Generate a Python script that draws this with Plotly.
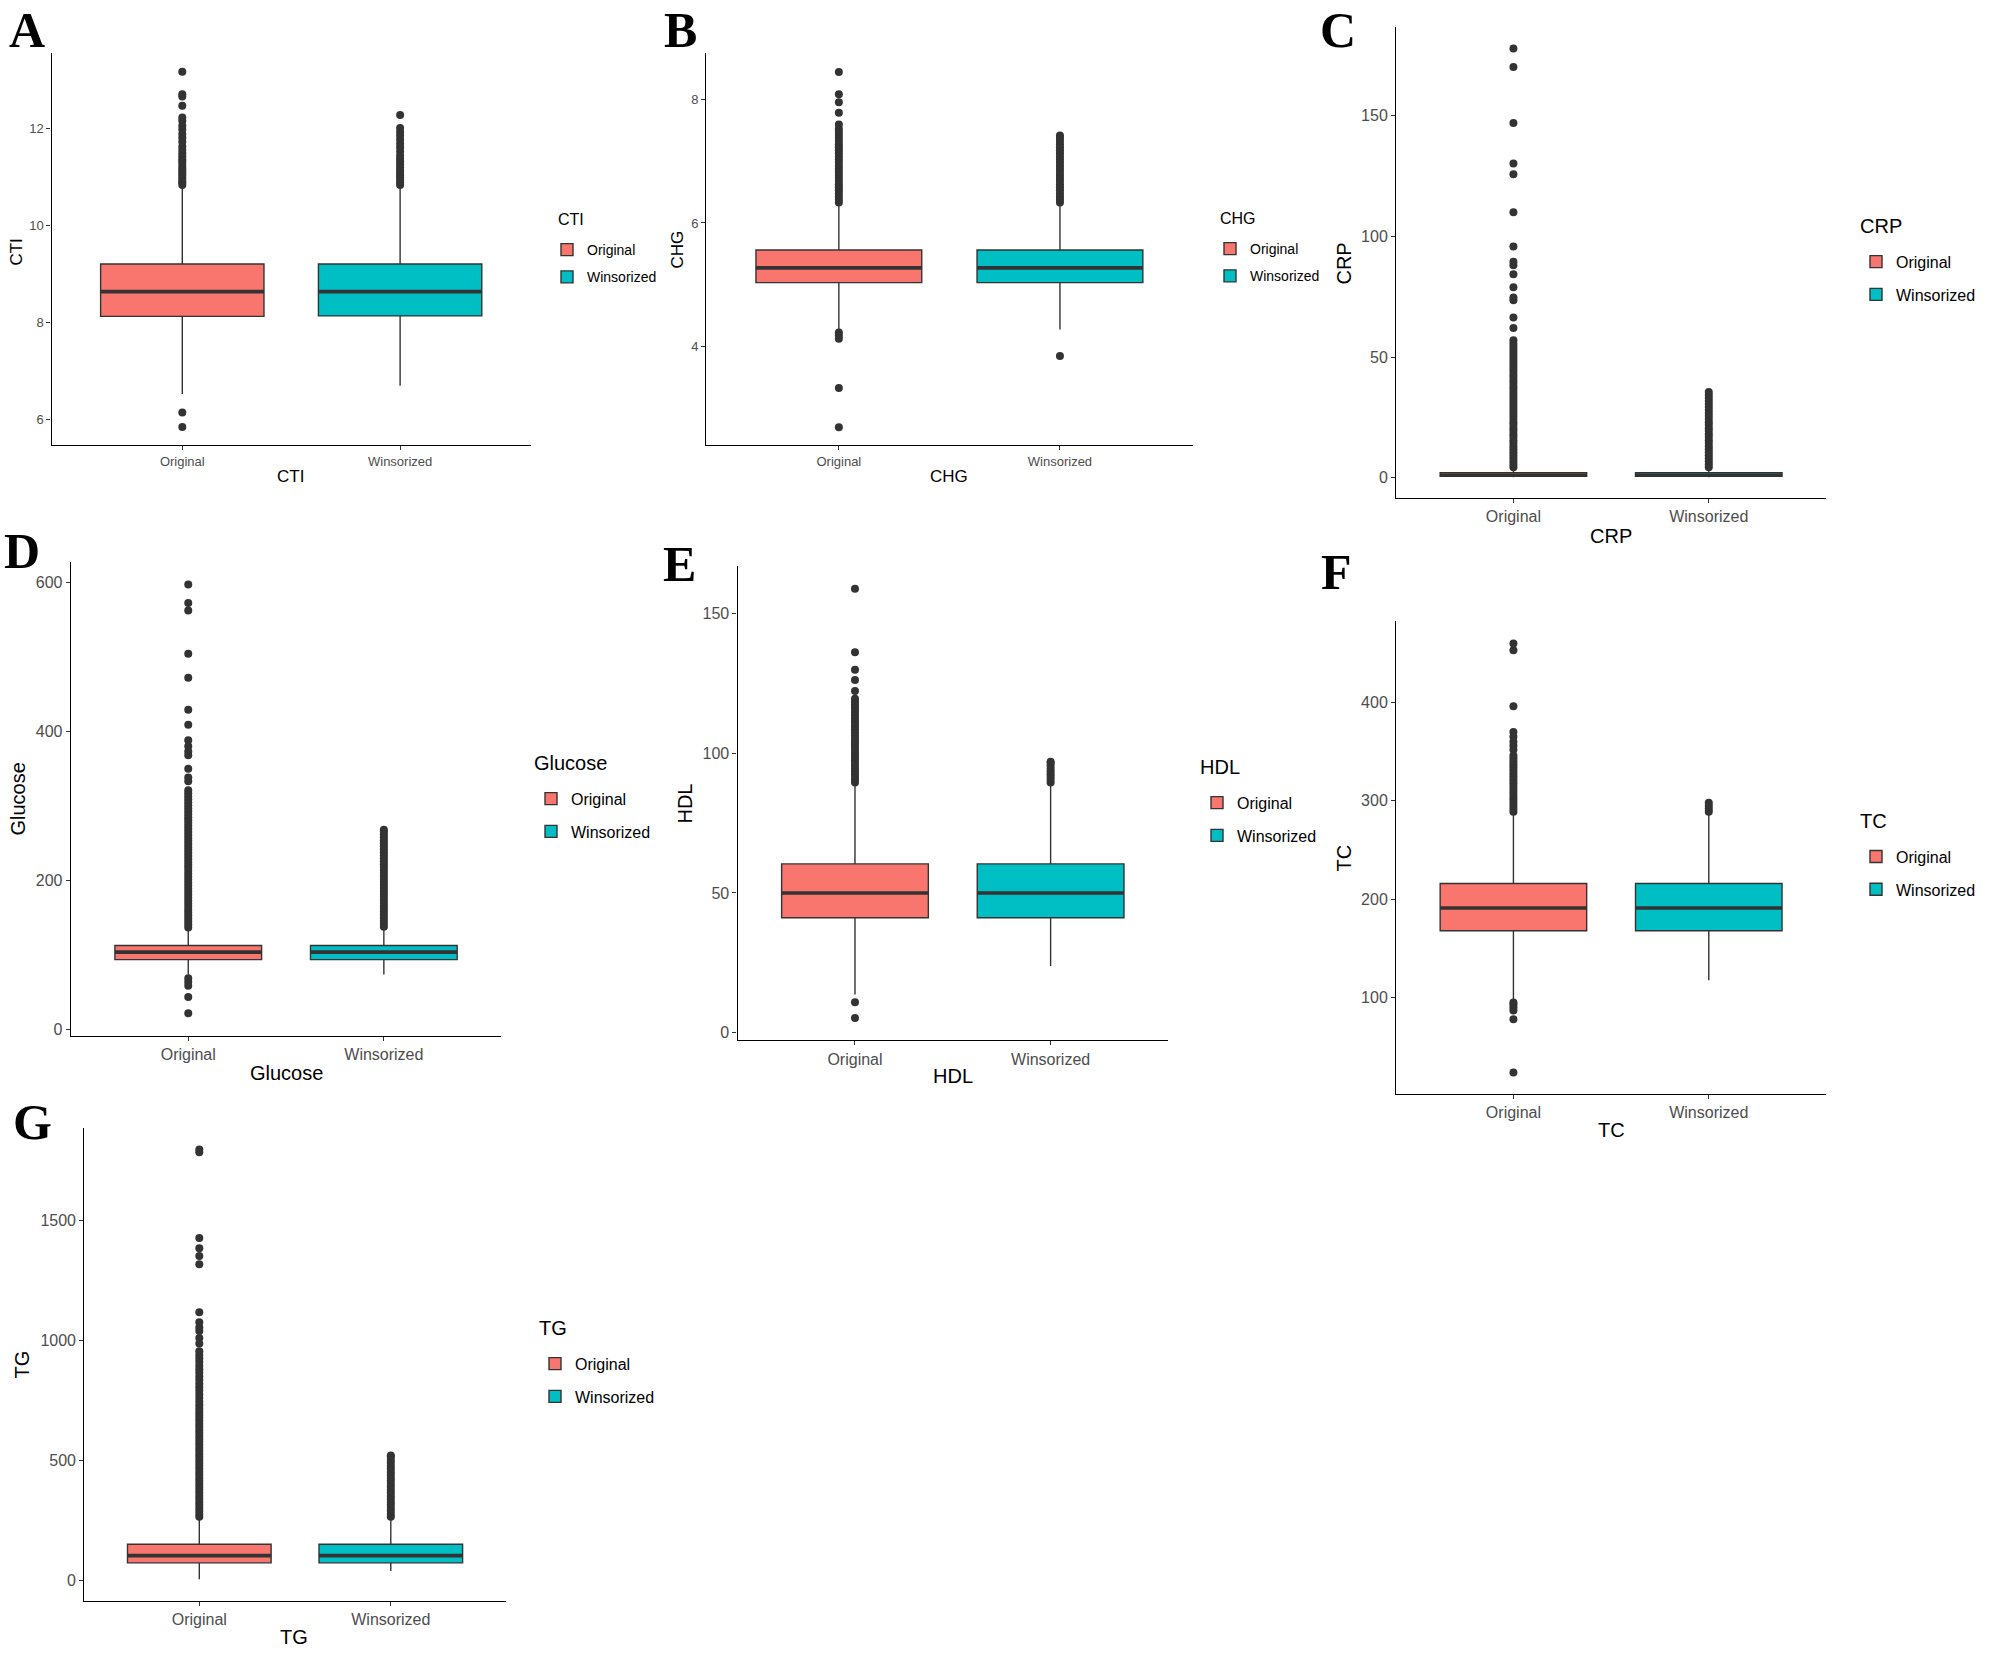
import plotly.graph_objects as go

W, H = 1999, 1660          # page size in the browser
FW, FH = W - 1, H - 1      # figure size (page body margin is removed below)

groups = ["Original", "Winsorized"]
fills = ["#F8766D", "#00BFC4"]

# ---------------- data ----------------
# A: CTI
cti_q1 = [8.12, 8.13]
cti_median = [8.63, 8.63]
cti_q3 = [9.20, 9.20]
cti_lowerfence = [6.52, 6.69]
cti_upperfence = [10.80, 10.80]
cti_out_original = [5.84, 6.14, 10.83, 10.87, 10.90, 10.95, 11.00, 11.05, 11.10, 11.15,
                    11.20, 11.26, 11.31, 11.36, 11.42, 11.48, 11.55, 11.62, 11.72, 11.80,
                    11.88, 11.97, 12.05, 12.15, 12.22, 12.46, 12.65, 12.70, 13.16]
cti_out_winsorized = [10.83, 10.88, 10.93, 10.98, 11.03, 11.08, 11.13, 11.19, 11.25, 11.31,
                      11.37, 11.43, 11.52, 11.60, 11.68, 11.76, 11.84, 11.92, 12.00, 12.27]
cti_ticks = [6, 8, 10, 12]

# B: CHG
chg_q1 = [5.03, 5.03]
chg_median = [5.27, 5.27]
chg_q3 = [5.56, 5.56]
chg_lowerfence = [4.27, 4.27]
chg_upperfence = [6.31, 6.31]
chg_out_original = [2.68, 3.32, 4.12, 4.17, 4.22, 6.33, 6.38, 6.43, 6.48, 6.53, 6.58, 6.63,
                    6.68, 6.73, 6.78, 6.83, 6.88, 6.93, 6.98, 7.03, 7.08, 7.13, 7.18, 7.23,
                    7.28, 7.33, 7.38, 7.43, 7.48, 7.53, 7.60, 7.79, 7.96, 8.09, 8.45]
chg_out_winsorized = [3.84, 6.33, 6.38, 6.43, 6.48, 6.53, 6.58, 6.63, 6.68, 6.73, 6.78, 6.83,
                      6.88, 6.93, 6.98, 7.03, 7.08, 7.13, 7.18, 7.23, 7.28, 7.33, 7.38, 7.42]
chg_ticks = [4, 6, 8]

# C: CRP
crp_q1 = [0.5, 0.5]
crp_median = [1.0, 1.0]
crp_q3 = [2.0, 2.0]
crp_lowerfence = [0.1, 0.1]
crp_upperfence = [4.1, 4.1]
crp_out_original = [4.3, 5.5, 6.8, 8.0, 9.3, 10.5, 11.8, 13.0, 14.3, 15.5, 16.8, 18.0, 19.3,
                    20.5, 21.8, 23.0, 24.3, 25.5, 26.8, 28.0, 29.3, 30.5, 31.8, 33.0, 34.3,
                    35.5, 36.8, 38.0, 39.3, 40.5, 41.8, 43.0, 44.3, 45.5, 46.8, 48.0, 49.3,
                    50.5, 51.8, 53.0, 54.3, 55.5, 56.9, 62.0, 66.4, 73.5, 74.7, 78.9, 84.3,
                    88.0, 89.5, 95.8, 110.0, 125.8, 130.2, 147.0, 170.3, 177.9]
crp_out_winsorized = [4.3, 5.5, 6.8, 8.0, 9.3, 10.5, 11.8, 13.0, 14.3, 15.5, 16.8, 18.0, 19.3,
                      20.5, 21.8, 23.0, 24.3, 25.5, 26.8, 28.0, 29.3, 30.5, 31.8, 33.0, 34.3,
                      35.5]
crp_ticks = [0, 50, 100, 150]

# D: Glucose
glu_q1 = [94, 94]
glu_median = [104, 104]
glu_q3 = [113, 113]
glu_lowerfence = [74, 74]
glu_upperfence = [136, 136]
glu_out_original = [22, 44, 59, 64, 69, 137, 141, 145, 149, 153, 157, 161, 165, 169, 173, 177,
                    181, 185, 189, 193, 197, 201, 205, 209, 213, 217, 221, 225, 229, 233, 237,
                    241, 245, 249, 253, 257, 261, 265, 269, 273, 277, 281, 285, 289, 293, 297,
                    301, 305, 309, 313, 317, 321, 333, 338, 350, 368, 373, 380, 388, 409, 429,
                    472, 504, 562, 572, 597]
glu_out_winsorized = [138, 142, 146, 150, 154, 158, 162, 166, 170, 174, 178, 182, 186, 190,
                      194, 198, 202, 206, 210, 214, 218, 222, 226, 230, 234, 238, 242, 246,
                      250, 254, 258, 262, 266, 268]
glu_ticks = [0, 200, 400, 600]

# E: HDL
hdl_q1 = [41.1, 41.1]
hdl_median = [50.0, 50.0]
hdl_q3 = [60.4, 60.4]
hdl_lowerfence = [13.6, 23.8]
hdl_upperfence = [88.7, 88.7]
hdl_out_original = [5.2, 10.9, 89.5, 90.5, 91.5, 92.5, 93.5, 94.5, 95.5, 96.5, 97.5, 98.5,
                    99.5, 100.5, 101.5, 102.5, 103.5, 104.5, 105.5, 106.5, 107.5, 108.5, 109.5,
                    110.5, 111.5, 112.5, 113.5, 114.5, 115.5, 116.5, 117.5, 118.5, 119.5,
                    122.3, 126.2, 129.9, 136.2, 158.9]
hdl_out_winsorized = [89.5, 90.5, 91.5, 92.5, 93.5, 94.5, 95.5, 96.5, 97.0]
hdl_ticks = [0, 50, 100, 150]

# F: TC
tc_q1 = [168, 168]
tc_median = [191, 191]
tc_q3 = [216, 216]
tc_lowerfence = [97, 117.7]
tc_upperfence = [288.5, 288.5]
tc_out_original = [23.8, 78, 87, 90, 93, 95, 289, 292, 295, 298, 301, 304, 307, 310, 313, 316,
                   319, 322, 325, 328, 331, 334, 337, 340, 343, 346, 352, 356, 360, 365, 370,
                   396, 453, 460]
tc_out_winsorized = [289, 292, 295, 298]
tc_ticks = [100, 200, 300, 400]

# G: TG
tg_q1 = [73, 73]
tg_median = [103, 103]
tg_q3 = [150.7, 150.7]
tg_lowerfence = [4.5, 38.8]
tg_upperfence = [262, 262]
tg_out_original = [265, 277, 290, 302, 315, 327, 340, 352, 365, 377, 390, 402, 415, 427, 440,
                   452, 465, 477, 490, 502, 515, 527, 540, 552, 565, 577, 590, 602, 615, 627,
                   640, 652, 665, 677, 690, 702, 715, 730, 745, 760, 775, 790, 805, 820, 835,
                   850, 865, 880, 895, 910, 925, 940, 955, 987, 1010, 1040, 1054, 1076, 1118,
                   1318, 1352, 1385, 1427, 1785, 1796]
tg_out_winsorized = [265, 277, 290, 302, 315, 327, 340, 352, 365, 377, 390, 402, 415, 427, 440,
                     452, 465, 477, 490, 502, 515, 521]
tg_ticks = [0, 500, 1000, 1500]

# ---------------- panel layout (page pixel geometry) ----------------
panels = [
    dict(name="CTI", letter="A", q1=cti_q1, med=cti_median, q3=cti_q3, lo=cti_lowerfence,
         hi=cti_upperfence, out=[cti_out_original, cti_out_winsorized], ticks=cti_ticks,
         yr=[5.465, 13.55], dom=(51.6, 530.8, 53, 446), letter_xy=(27, 11.7),
         xt=(290, 477), yt=(17, 253), legt=(556, 220), legtext_x=591, leg_item1=249,
         small=True),
    dict(name="CHG", letter="B", q1=chg_q1, med=chg_median, q3=chg_q3, lo=chg_lowerfence,
         hi=chg_upperfence, out=[chg_out_original, chg_out_winsorized], ticks=chg_ticks,
         yr=[2.39, 8.757], dom=(706.2, 1192.6, 53.3, 446), letter_xy=(680, 11.7),
         xt=(949, 477), yt=(678, 250), legt=(1218, 219), legtext_x=1254, leg_item1=248,
         small=True),
    dict(name="CRP", letter="C", q1=crp_q1, med=crp_median, q3=crp_q3, lo=crp_lowerfence,
         hi=crp_upperfence, out=[crp_out_original, crp_out_winsorized], ticks=crp_ticks,
         yr=[-8.5, 186.9], dom=(1396.2, 1826, 26.9, 499), letter_xy=(1338, 8),
         xt=(1611, 537), yt=(1344, 264), legt=(1858, 226), legtext_x=1900, leg_item1=261,
         small=False),
    dict(name="Glucose", letter="D", q1=glu_q1, med=glu_median, q3=glu_q3, lo=glu_lowerfence,
         hi=glu_upperfence, out=[glu_out_original, glu_out_winsorized], ticks=glu_ticks,
         yr=[-7.9, 626.4], dom=(70.9, 501.2, 563.5, 1037.5), letter_xy=(22, 533.7),
         xt=(286, 1075), yt=(18, 801), legt=(532, 764), legtext_x=575, leg_item1=799,
         small=False),
    dict(name="HDL", letter="E", q1=hdl_q1, med=hdl_median, q3=hdl_q3, lo=hdl_lowerfence,
         hi=hdl_upperfence, out=[hdl_out_original, hdl_out_winsorized], ticks=hdl_ticks,
         yr=[-2.7, 167], dom=(737.6, 1168, 567.2, 1042), letter_xy=(679, 546.7),
         xt=(953, 1078), yt=(685, 805), legt=(1198, 768), legtext_x=1241, leg_item1=803,
         small=False),
    dict(name="TC", letter="F", q1=tc_q1, med=tc_median, q3=tc_q3, lo=tc_lowerfence,
         hi=tc_upperfence, out=[tc_out_original, tc_out_winsorized], ticks=tc_ticks,
         yr=[2.4, 482.6], dom=(1396.2, 1826, 622.3, 1095.6), letter_xy=(1336, 554.5),
         xt=(1611, 1132), yt=(1344, 860), legt=(1858, 822), legtext_x=1900, leg_item1=857,
         small=False),
    dict(name="TG", letter="G", q1=tg_q1, med=tg_median, q3=tg_q3, lo=tg_lowerfence,
         hi=tg_upperfence, out=[tg_out_original, tg_out_winsorized], ticks=tg_ticks,
         yr=[-85.3, 1884], dom=(84.4, 505.7, 1130.5, 1603.7), letter_xy=(32, 1106),
         xt=(294, 1640), yt=(22, 1367), legt=(537, 1330), legtext_x=579, leg_item1=1365,
         small=False),
]

FONT = "Liberation Sans, Arial, sans-serif"
SERIF = "Liberation Serif, Times New Roman, serif"
DARK = "#333333"


def px(x):
    return x / FW


def py(y):
    return 1 - y / FH


fig = go.Figure()
annotations = []
layout = {}

for i, p in enumerate(panels, start=1):
    sfx = "" if i == 1 else str(i)
    xref, yref = "x" + sfx, "y" + sfx
    legname = "legend" + sfx
    tick_size = 13 if p["small"] else 16
    title_size = 17 if p["small"] else 20
    leg_title_size = 16 if p["small"] else 20
    leg_item_size = 14 if p["small"] else 16
    leg_gap = 6 if p["small"] else 9

    for j, g in enumerate(groups):
        # box body + whiskers
        fig.add_trace(go.Box(
            x=[g], q1=[p["q1"][j]], median=[p["med"][j]], q3=[p["q3"][j]],
            lowerfence=[p["lo"][j]], upperfence=[p["hi"][j]],
            width=0.75, whiskerwidth=0, boxpoints=False,
            fillcolor=fills[j], line=dict(color=DARK, width=1.4),
            name=g, legend=legname, legendgroup=f"{p['name']}_{g}",
            xaxis=xref, yaxis=yref, hoverinfo="skip"))
        # thick median bar
        fig.add_trace(go.Box(
            x=[g], q1=[p["med"][j]], median=[p["med"][j]], q3=[p["med"][j]],
            lowerfence=[p["med"][j]], upperfence=[p["med"][j]],
            width=0.75, whiskerwidth=0, boxpoints=False,
            fillcolor="rgba(0,0,0,0)", line=dict(color=DARK, width=3.6),
            showlegend=False, xaxis=xref, yaxis=yref, hoverinfo="skip"))
        # outliers
        fig.add_trace(go.Scatter(
            x=[g] * len(p["out"][j]), y=p["out"][j], mode="markers",
            marker=dict(color=DARK, size=8, line=dict(width=0)),
            showlegend=False, xaxis=xref, yaxis=yref, hoverinfo="skip"))

    x0, x1, y0, y1 = p["dom"]
    layout["xaxis" + sfx] = dict(
        domain=[px(x0), px(x1)], anchor=yref, type="category",
        categoryorder="array", categoryarray=groups, range=[-0.6, 1.6],
        showline=True, linecolor="black", linewidth=1.4, showgrid=False, zeroline=False,
        ticks="outside", ticklen=4, tickwidth=1.1, tickcolor=DARK,
        tickfont=dict(family=FONT, size=tick_size, color="#4D4D4D"))
    layout["yaxis" + sfx] = dict(
        domain=[py(y1), py(y0)], anchor=xref, range=p["yr"],
        tickvals=p["ticks"], ticktext=[str(t) for t in p["ticks"]],
        showline=True, linecolor="black", linewidth=1.4, showgrid=False, zeroline=False,
        ticks="outside", ticklen=4, tickwidth=1.1, tickcolor=DARK,
        tickfont=dict(family=FONT, size=tick_size, color="#4D4D4D"))

    # legend (items only); its title is placed as text just above
    leg_top = p["leg_item1"] - (5 + 0.68 * leg_item_size)
    layout[legname] = dict(
        x=px(p["legtext_x"] - 44), y=py(leg_top), xanchor="left", yanchor="top",
        font=dict(family=FONT, size=leg_item_size, color="black"),
        bgcolor="rgba(0,0,0,0)", tracegroupgap=leg_gap, traceorder="grouped")
    annotations.append(dict(x=px(p["legt"][0]), y=py(p["legt"][1]), xref="paper", yref="paper",
                            text=p["name"], showarrow=False, xanchor="left", yanchor="middle",
                            font=dict(family=FONT, size=leg_title_size, color="black")))

    # axis titles
    annotations.append(dict(x=px(p["xt"][0]), y=py(p["xt"][1]), xref="paper", yref="paper",
                            text=p["name"], showarrow=False, xanchor="center", yanchor="middle",
                            font=dict(family=FONT, size=title_size, color="black")))
    annotations.append(dict(x=px(p["yt"][0]), y=py(p["yt"][1]), xref="paper", yref="paper",
                            text=p["name"], showarrow=False, xanchor="center", yanchor="middle",
                            textangle=-90,
                            font=dict(family=FONT, size=title_size, color="black")))
    # panel letter (letter_xy holds the top of the capital letter)
    lx, cap_top = p["letter_xy"]
    annotations.append(dict(x=px(lx), y=py(max(cap_top - 12, 0)), xref="paper",
                            yref="paper", text=f"<b>{p['letter']}</b>", showarrow=False,
                            xanchor="center", yanchor="top",
                            font=dict(family=SERIF, size=50, color="black")))

fig.update_layout(
    width=FW, height=FH, margin=dict(l=0, r=0, t=0, b=0),
    paper_bgcolor="white", plot_bgcolor="white", boxmode="overlay",
    showlegend=True, annotations=annotations, **layout)

fig.write_html("out.html", config={"displayModeBar": False},
               post_script="document.body.style.margin='0px';document.body.style.padding='0px';")
